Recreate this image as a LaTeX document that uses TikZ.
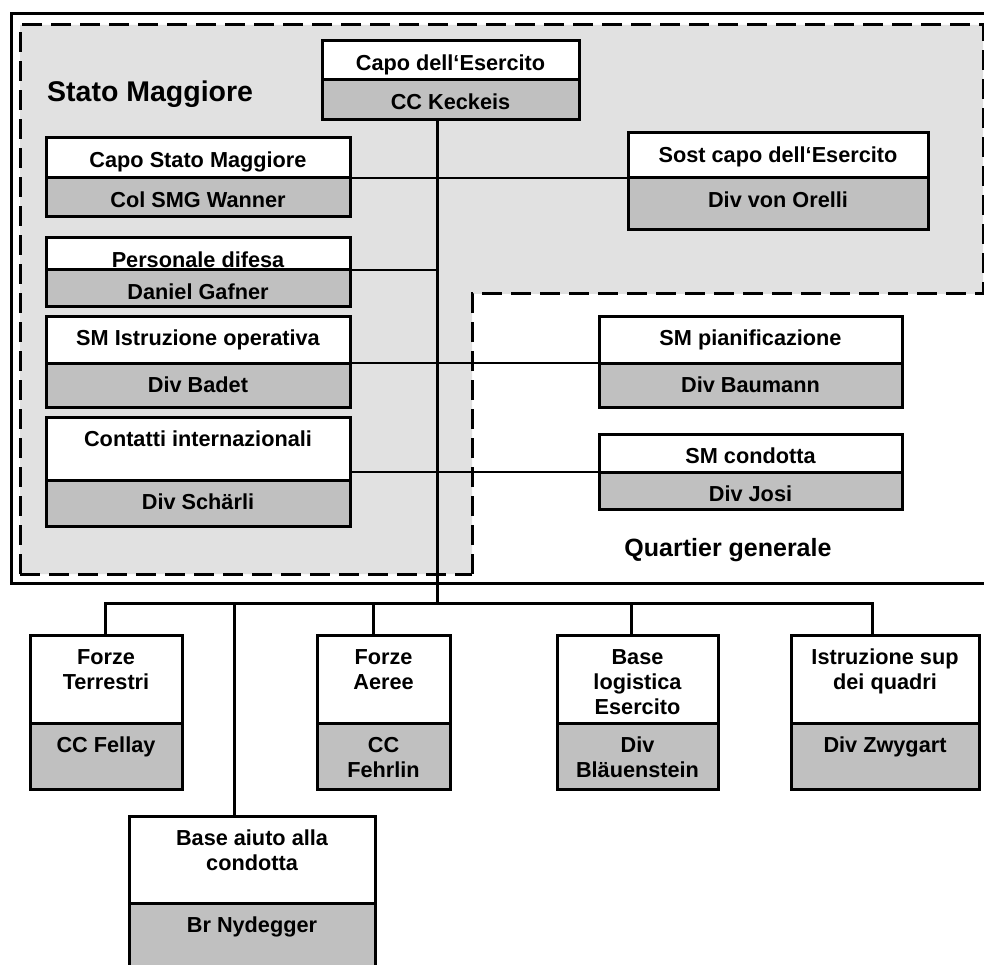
\documentclass[tikz,border=0pt]{standalone}
\usepackage{fontspec}
\setmainfont{Liberation Sans}
\definecolor{regiongray}{HTML}{E1E1E1}
\definecolor{boxgray}{HTML}{C0C0C0}
\newcommand\orgbox[8]{%
  \node[uppart, minimum width={(#6-#2)*1pt}, minimum height={(#4-#3)*1pt}] (#1-up) at (#2,#3) {};
  \node[lowpart, minimum width={(#6-#2)*1pt}, minimum height={(#5-#4)*1pt}] (#1-low) at (#2,#4) {};
  \node[lbl] (#1-ut) at ([yshift=-13pt]#1-up.north) {\rule{0pt}{16pt}#7};
  \node[lbl] (#1-lt) at ([yshift=-13pt]#1-low.north) {\rule{0pt}{16pt}#8};
}
\begin{document}
\begin{tikzpicture}[x=1pt,y=-1pt,
  part/.style={draw=black, line width=3pt, inner sep=0pt, outer sep=0pt, anchor=north west},
  uppart/.style={part, fill=white},
  lowpart/.style={part, fill=boxgray},
  lbl/.style={anchor=north, inner sep=0pt, align=center, font=\fontsize{21.7}{25}\selectfont\bfseries},
  link/.style={line width=2pt},
  trunk/.style={line width=3pt},
  zone/.style={dash pattern=on 20pt off 9pt, line width=3pt},
  title/.style={inner sep=0pt, font=\bfseries},
]
\useasboundingbox (0,0) rectangle (984,965);
\clip (0,0) rectangle (984,965);
\fill[white] (0,0) rectangle (984,965);
% outer frame
\draw[line width=3pt] (11,14) rectangle (1000,583);
% Stato Maggiore zone (L-shape)
\fill[regiongray] (20,25) -- (983,25) -- (983,294) -- (472,294) -- (472,574) -- (20,574) -- cycle;
\draw[zone] (20,574) -- (20,25) -- (983,25) -- (983,294);
\draw[zone] (472,574) -- (472,294) -- (990,294);
\draw[zone] (20,574) -- (472,574);
% labels of zones
\node[title, anchor=base west, font=\fontsize{28.5}{30}\selectfont\bfseries] (smlabel) at (47,102) {Stato Maggiore};
\node[title, anchor=base, font=\fontsize{25}{27}\selectfont\bfseries] (qglabel) at (728,556) {Quartier generale};
% coordinates
\coordinate (bus) at (437,603);
\coordinate (d1) at (105,603);
\coordinate (d2) at (234,603);
\coordinate (d3) at (373.5,603);
\coordinate (d4) at (631,603);
\coordinate (d5) at (872.5,603);
% boxes
\orgbox{ce}{322}{41}{80}{120}{579}{Capo dell‘Esercito}{CC Keckeis}
\orgbox{csm}{46}{138}{178}{217}{350}{Capo Stato Maggiore}{Col SMG Wanner}
\orgbox{sost}{628}{133}{178}{230}{928}{Sost capo dell‘Esercito}{Div von Orelli}
\orgbox{pers}{46}{238}{270}{306}{350}{Personale difesa}{Daniel Gafner}
\orgbox{smio}{46}{316}{363}{407}{350}{SM Istruzione operativa}{Div Badet}
\orgbox{cont}{46}{417}{480}{526}{350}{Contatti internazionali}{Div Schärli}
\orgbox{smp}{599}{316}{363}{407}{902}{SM pianificazione}{Div Baumann}
\orgbox{smc}{599}{434}{472}{509}{902}{SM condotta}{Div Josi}
\orgbox{ft}{30}{635}{723}{789}{182}{Forze\\Terrestri}{CC Fellay}
\orgbox{fa}{317}{635}{723}{789}{450}{Forze\\Aeree}{CC\\Fehrlin}
\orgbox{bl}{557}{635}{723}{789}{718}{Base\\logistica\\Esercito}{Div\\Bläuenstein}
\orgbox{is}{791}{635}{723}{789}{979}{Istruzione sup\\dei quadri}{Div Zwygart}
\orgbox{ba}{129}{816}{903}{985}{375}{Base aiuto alla\\condotta}{Br Nydegger}
% connectors
\draw[trunk] (bus |- ce-low.south) -- (bus);
\draw[link] (csm-up.south east) -- (sost-up.south west);
\draw[link] (pers-up.south east) -- (bus |- pers-up.south east);
\draw[link] (smio-up.south east) -- (smp-up.south west);
\draw[link] (smc-up.south west -| cont-up.east) -- (smc-up.south west);
\draw[trunk] (d1 |- ft-up.north) -- (d1) -- (d5) -- (d5 |- is-up.north);
\draw[trunk] (d3) -- (d3 |- fa-up.north);
\draw[trunk] (d4) -- (d4 |- bl-up.north);
\draw[trunk] (d2) -- (d2 |- ba-up.north);
\end{tikzpicture}
\end{document}
